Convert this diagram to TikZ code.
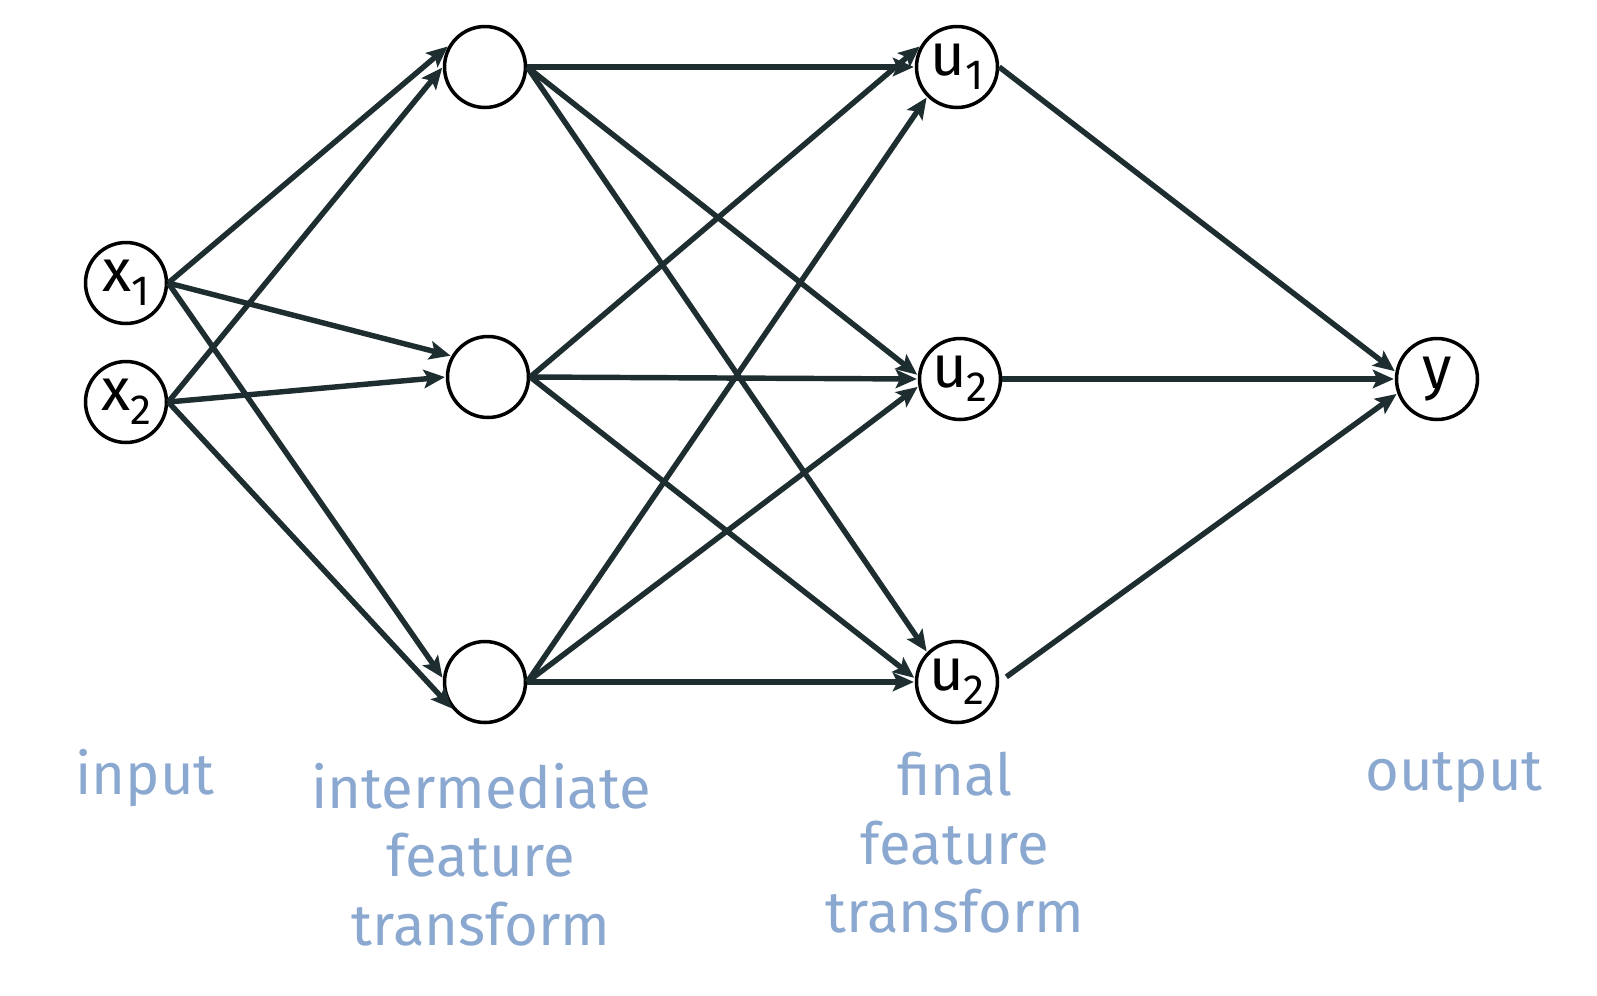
\documentclass[tikz,border=0pt]{standalone}
\usepackage{fontspec}
\setmainfont{Fira Sans}
\usetikzlibrary{arrows.meta}
\usetikzlibrary{positioning}

\definecolor{wire}{RGB}{30,45,47}
\definecolor{capblue}{RGB}{138,168,208}
\newcommand{\lowidx}[1]{\raisebox{-8pt}{\fontsize{24}{26}\selectfont #1}}

\begin{document}
\begin{tikzpicture}
[x=0.02cm,y=-0.02cm,>={Stealth[length=12pt,width=10.5pt,inset=2.5pt]},
 neuron/.style={circle,draw=black,line width=2pt,minimum size=1.62cm,inner sep=0pt,font=\fontsize{34}{40}\selectfont},
 layername/.style={text=capblue,align=center,font=\fontsize{33}{39}\selectfont},
 wireline/.style={->,draw=wire,line width=3.1pt,shorten >=0.5pt}]

\useasboundingbox (0,0) rectangle (1597,995);

\node[neuron] (x1) at (126,283) {x\lowidx{1}};
\node[neuron] (x2) at (126,402) {x\lowidx{2}};
\node[neuron] (h1) at (485,67) {};
\node[neuron] (h2) at (488,377) {};
\node[neuron] (h3) at (485,682) {};
\node[neuron] (u1) at (957,67) {u\lowidx{1}};
\node[neuron] (u2) at (960,379) {u\lowidx{2}};
\node[neuron] (u3) at (957,682) {u\lowidx{2}};
\node[neuron] (y) at (1437,379) {y};

\node[layername] (in) at (145,778) {input};
\node[layername,anchor=north] (mid) at (481,757) {intermediate\\feature\\transform};
\node[layername,anchor=north] (fin) at (955,746) {final\\feature\\transform};
\node[layername] (out) at (1454,778) {output};

\foreach \from/\to in {x1/h1.150,x1/h2.150,x1/h3.175,x2/h1.180,x2/h2.180,x2/h3.220,
  h1/u1.180,h1/u2.175,h1/u3.135,h2/u1.150,h2/u2.180,h2/u3.175,h3/u1.225,h3/u2.190,h3/u3.180,
  u1/y.170,u2/y.180}
\draw[wireline] (\from.east) -- (\to);
\draw[wireline,shorten <=5pt] (u3.east) -- (y.200);

\end{tikzpicture}
\end{document}
